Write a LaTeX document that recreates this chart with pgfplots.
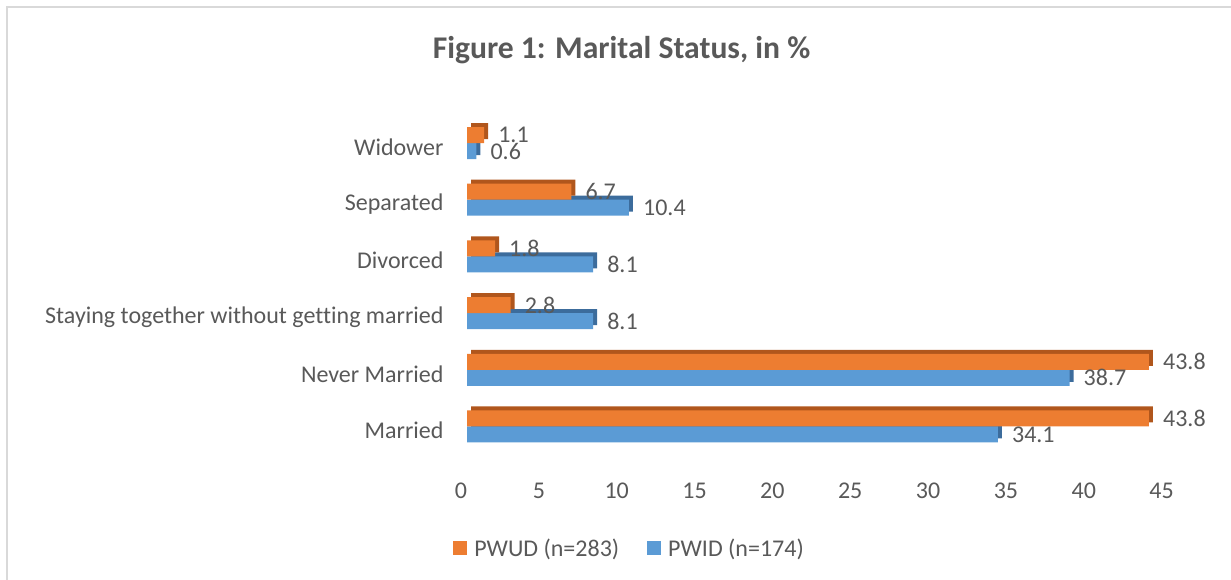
\documentclass[border=0pt]{standalone}
\usepackage{fontspec}
\setmainfont{Carlito}[Ligatures=NoCommon]
\usepackage{pgfplots}
\pgfplotsset{compat=1.18}
\definecolor{porange}{HTML}{ED7D31}
\definecolor{pblue}{HTML}{5B9BD5}
\definecolor{porangedark}{HTML}{B0561C}
\definecolor{pbluedark}{HTML}{3C6C9C}
\definecolor{txt}{HTML}{595959}
\definecolor{framegray}{HTML}{D9D9D9}
\begin{document}
\begin{tikzpicture}
\clip (0,0) rectangle (1231pt,-579pt);
\draw[framegray, line width=1.6pt] (7pt,-7pt) rectangle (1260pt,-620pt);
\node[text=txt, font=\fontsize{31.6}{36}\selectfont\bfseries] at (621.5pt,-50pt) {Figure 1: Marital Status, in \%};
\begin{axis}[
  at={(467pt,-460.5pt)}, anchor=south west,
  scale only axis, width=700.6pt, height=351.5pt,
  xmin=0, xmax=45, ymin=-0.6, ymax=5.6,
  xbar, bar width=16pt,
  axis line style={draw=none}, tick style={draw=none},
  major tick length=0pt,
  xtick={0,5,...,45}, ytick={0,1,2,3,4,5},
  yticklabels={Married, Never Married, Staying together without getting married, Divorced, Separated, Widower},
  /pgf/number format/assume math mode=true,
  tick label style={text=txt, font=\fontsize{24}{28}\selectfont},
  xticklabel style={yshift=-19pt, xshift=-6pt},
  yticklabel style={xshift=-20pt, yshift=-4pt},
  nodes near coords={\pgfmathprintnumber[fixed,fixed zerofill,precision=1,assume math mode=true]{\pgfplotspointmeta}},
  every node near coord/.append style={text=txt, font=\fontsize{24}{28}\selectfont, anchor=west, inner sep=0pt, xshift=14pt},
  legend style={draw=none, at={(0.2320,-0.249)}, anchor=center, font=\fontsize{24}{28}\selectfont, text=txt, legend columns=2, /tikz/every even column/.append style={column sep=26pt}, cells={anchor=west}},
]
\addlegendimage{legend image code/.code={\path[draw=none,fill=none] (-7pt,-7pt) rectangle (12pt,7pt);\fill[porange,draw=none] (-7pt,-7pt) rectangle (7pt,7pt);}}
\addlegendimage{legend image code/.code={\path[draw=none,fill=none] (-7pt,-7pt) rectangle (12pt,7pt);\fill[pblue,draw=none] (-7pt,-7pt) rectangle (7pt,7pt);}}
\addplot[forget plot, fill=pblue, draw=none, bar shift=-8pt,
  preaction={fill=pbluedark, transform canvas={xshift=4pt,yshift=4pt}}]
  coordinates {(34.1,0) (38.7,1) (8.1,2) (8.1,3) (10.4,4) (0.6,5)};
\addplot[forget plot, fill=porange, draw=none, bar shift=8pt,
  preaction={fill=porangedark, transform canvas={xshift=4pt,yshift=4pt}}]
  coordinates {(43.8,0) (43.8,1) (2.8,2) (1.8,3) (6.7,4) (1.1,5)};
\legend{PWUD (n=283), PWID (n=174)}
\end{axis}
\end{tikzpicture}
\end{document}
